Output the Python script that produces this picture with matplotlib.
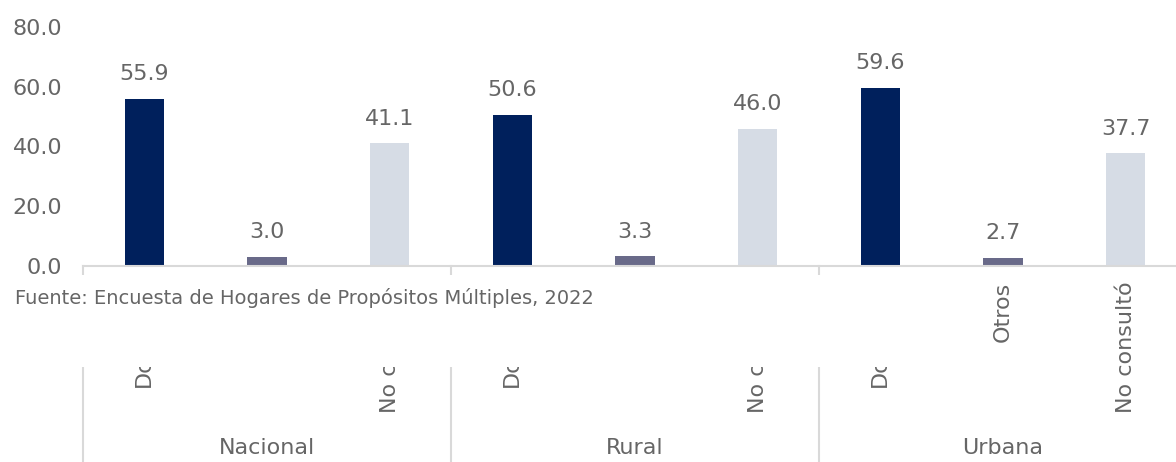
import matplotlib.pyplot as plt
from matplotlib.patches import Rectangle

plt.rcParams['font.family'] = ['DejaVu Sans']

groups = ["Nacional", "Rural", "Urbana"]
categories = ["Doctor(a)", "Otros", "No consultó"]
nacional = [55.9, 3.0, 41.1]
rural = [50.6, 3.3, 46.0]
urbana = [59.6, 2.7, 37.7]
colors = ["#00205C", "#696A89", "#D6DCE5"]
yticks = [0, 20, 40, 60, 80]
source = "Fuente: Encuesta de Hogares de Propósitos Múltiples, 2022"

W, H = 1176, 462
text_color = "#666666"

fig = plt.figure(figsize=(W / 100, H / 100), dpi=100)
# axes runs past the right edge on purpose (last group is cut)
ax = fig.add_axes([83 / W, (H - 266) / H, 1104 / W, 239 / H])

values = nacional + rural + urbana
labels = categories * len(groups)
xs = list(range(len(values)))
bar_colors = colors * len(groups)

bars = ax.bar(xs, values, width=0.32, color=bar_colors)
ax.bar_label(bars, fmt="%.1f", padding=10.5, fontsize=16, color=text_color)

ax.set_xlim(-0.5, len(values) - 0.5)
ax.set_ylim(0, 80)
ax.set_yticks(yticks)
ax.set_yticklabels([f"{v:.1f}" for v in yticks])
ax.set_xticks(xs)
ax.set_xticklabels(labels, rotation=90, va="top", ha="center")
ax.tick_params(axis="both", length=0, labelsize=16, labelcolor=text_color)
ax.tick_params(axis="x", pad=11)
ax.tick_params(axis="y", pad=15)

for side in ["left", "right", "top"]:
    ax.spines[side].set_visible(False)
ax.spines["bottom"].set_color("#D9D9D9")
ax.spines["bottom"].set_linewidth(1.5)

# group separators and group names below the axis
trans = ax.get_xaxis_transform()
bottom = -(H - 266) / 239
for i, g in enumerate(groups):
    left = i * 3 - 0.5
    ax.plot([left, left], [0, bottom], transform=trans, color="#D9D9D9",
            lw=1.5, clip_on=False)
    ax.text(i * 3 + 1, -(448 - 266) / 239, g, transform=trans, ha="center",
            va="center", fontsize=16, color=text_color)

# white box covering part of the labels, with the source on top
fig.add_artist(Rectangle((0, (H - 367) / H), 960 / W, (367 - 275) / H,
                         transform=fig.transFigure, facecolor="white",
                         edgecolor="none", zorder=5))
fig.text(15 / W, (H - 298) / H, source, ha="left", va="center",
         fontsize=14, color=text_color, zorder=6)

fig.savefig("out.png", dpi=100)
